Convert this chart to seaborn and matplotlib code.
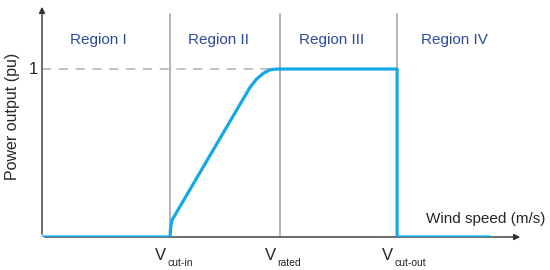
import matplotlib
matplotlib.use("Agg")
import matplotlib.pyplot as plt
import seaborn as sns
import pandas as pd

# wind speed (arbitrary units) and power output (pu)
wind_speed = [0.0, 3.50, 3.51, 3.55, 5.68, 5.86, 6.05, 6.22, 6.40, 9.70, 9.70, 12.24]
power_pu = [0.0, 0.0, 0.05, 0.10, 0.89, 0.94, 0.975, 0.995, 1.0, 1.0, 0.0, 0.0]

boundaries = [3.5, 6.5, 9.7]
boundary_names = ["cut-in", "rated", "cut-out"]
regions = ["Region I", "Region II", "Region III", "Region IV"]
region_x = [1.53, 4.81, 7.92, 11.26]

sns.set_style("white")
plt.rcParams["font.family"] = ["Liberation Sans", "DejaVu Sans"]

fig = plt.figure(figsize=(5.5, 2.7), dpi=100)
ax = fig.add_axes([42 / 550, 1 - 237 / 270, 481 / 550, 233 / 270])
ax.set_xlim(0, 13.14)
ax.set_ylim(0, 1.387)
for s in ax.spines.values():
    s.set_visible(False)
ax.set_xticks([])
ax.set_yticks([])

# region boundaries
for b in boundaries:
    ax.plot([b, b], [0, 1.33], color="#a8a8a8", lw=1.2, zorder=1)

# rated power reference
ax.plot([0, 6.2], [1, 1], color="#b0b0b0", lw=1.1, ls=(0, (6, 5)), zorder=1)

# axes with arrows
arrow = dict(arrowstyle="-|>", color="#333333", lw=1.0, mutation_scale=9)
ax.annotate("", xy=(1.0, 0), xytext=(0, 0), xycoords="axes fraction",
            arrowprops=arrow, annotation_clip=False)
ax.annotate("", xy=(0, 1.0), xytext=(0, 0), xycoords="axes fraction",
            arrowprops=arrow, annotation_clip=False)

df = pd.DataFrame({"v": wind_speed, "p": power_pu})
sns.lineplot(data=df, x="v", y="p", sort=False, estimator=None,
             color="#13a9e8", lw=2.3, ax=ax, zorder=3)
ax.set_xlabel("")
ax.set_ylabel("")

for name, x in zip(regions, region_x):
    ax.text(x, 1.17, name, color="#2b4a9e", fontsize=11, ha="center", va="center")

ax.text(-0.12, 1.0, "1", fontsize=12, ha="right", va="center")

for b, sub in zip(boundaries, boundary_names):
    ax.annotate("V", xy=(b, 0), xytext=(-4, -11), textcoords="offset pixels",
                fontsize=12, ha="right", va="top", annotation_clip=False)
    ax.annotate(sub, xy=(b, 0), xytext=(-3, -21), textcoords="offset pixels",
                fontsize=7.5, ha="left", va="top", annotation_clip=False)

fig.text(12 / 550, 1 - 116 / 270, "Power output (pu)", rotation=90,
         fontsize=11.5, ha="center", va="center")
fig.text(545 / 550, 1 - 219 / 270, "Wind speed (m/s)", fontsize=11,
         ha="right", va="center")

fig.savefig("out.png", dpi=100)
